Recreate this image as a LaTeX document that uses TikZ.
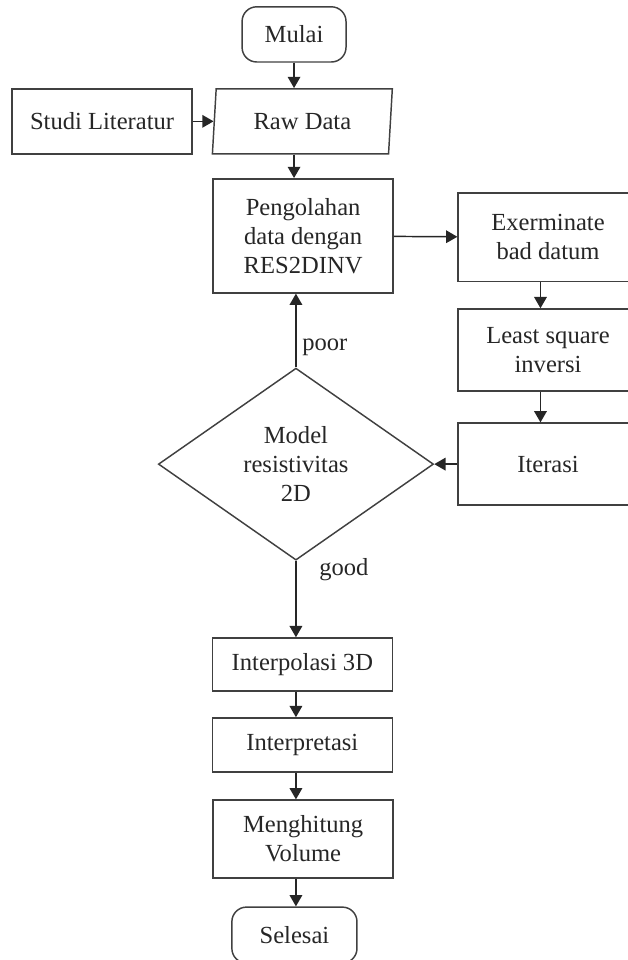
\documentclass[tikz,border=0pt]{standalone}
\usepackage{fontspec}
\setmainfont{Liberation Serif}
\usetikzlibrary{shapes.geometric,arrows.meta}

\begin{document}
\begin{tikzpicture}[
        font=\fontsize{18.5}{21.8}\selectfont,
        every node/.append style={align=center, inner sep=0pt, text=black!85},
        box/.style={draw=black!75, line width=1.1pt, minimum width=4.76cm},
        endbox/.style={box, rounded corners=11pt},
        iobox/.style={draw=black!75, line width=1.1pt, trapezium, trapezium left angle=77,
            trapezium right angle=103, trapezium stretches body, minimum width=4.76cm},
        decision/.style={draw=black!75, line width=1.1pt, diamond, minimum width=7.28cm,
            minimum height=5.08cm},
        arr/.style={draw=black!85, line width=1.1pt, -{Triangle[length=8.5pt,width=9.5pt]}}
    ]
            \useasboundingbox (0,0) rectangle (16.61,-25.4);

            \node[endbox, minimum width=2.75cm, minimum height=1.46cm] (mulai) at (7.78,-0.91) {Mulai};
            \node[iobox, minimum height=1.72cm] (raw) at (8.00,-3.21) {Raw Data};
            \node[box, minimum height=1.72cm] (studi) at (2.70,-3.21) {Studi Literatur};
            \draw[arr] (mulai) -- (mulai |- raw.north);
            \draw[arr] (studi) -- (raw);

            \node[box, minimum height=3.02cm] (olah) at (8.02,-6.24) {Pengolahan\\data dengan\\RES2DINV};
            \draw[arr] (raw.south -| mulai) -- (olah.north -| mulai);

            \node[box, minimum height=2.35cm] (bad) at (14.50,-6.28) {Exerminate\\bad datum};
            \node[box, minimum height=2.17cm] (lsq) at (14.50,-9.26) {Least square\\inversi};
            \node[box, minimum height=2.17cm] (iter) at (14.50,-12.28) {Iterasi};
            \draw[arr] (olah) -- (bad);
            \draw[arr] ([xshift=-0.2cm]bad.south) -- ([xshift=-0.2cm]lsq.north);
            \draw[arr] ([xshift=-0.2cm]lsq.south) -- ([xshift=-0.2cm]iter.north);

            \node[decision] (model) at (7.83,-12.28) {Model\\resistivitas\\2D};
            \draw[arr] (iter) -- (model);
            \draw[arr] (model.north) -- (model.north |- olah.south) node[pos=0.27, right=0.15cm] {poor};

            \node[box, minimum height=1.40cm] (interp) at (8.00,-17.58) {Interpolasi 3D};
            \draw[arr] (model.south) -- (model.south |- interp.north) node[pos=0.12, right=0.6cm] {good};

            \node[box, minimum height=1.43cm] (tafsir) at (8.00,-19.71) {Interpretasi};
            \node[box, minimum height=2.06cm] (volume) at (8.02,-22.20) {Menghitung\\Volume};
            \node[endbox, minimum width=3.31cm, minimum height=1.48cm] (selesai) at (7.79,-24.74) {Selesai};
            \draw[arr] (interp.south -| model) -- (tafsir.north -| model);
            \draw[arr] (tafsir.south -| model) -- (volume.north -| model);
            \draw[arr] (volume.south -| model) -- (selesai.north -| model);
        \end{tikzpicture}
\end{document}
